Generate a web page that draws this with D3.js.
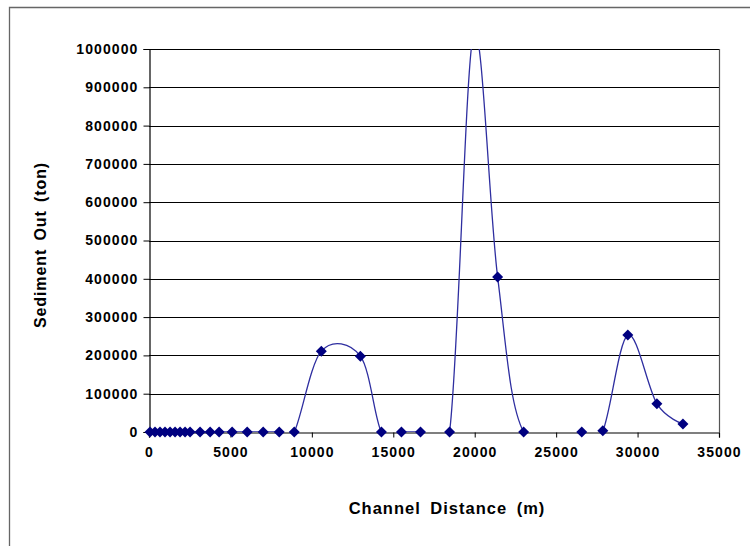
<!DOCTYPE html>
<html><head><meta charset="utf-8">
<script src="https://cdn.jsdelivr.net/npm/d3@7"></script>
<style>
body{margin:0;background:#fff;}
svg{display:block;font-family:"Liberation Sans",Arial,sans-serif;}
</style></head>
<body><svg id="c" width="750" height="546"></svg>
<script>
const distance = [62,369,677,984,1292,1600,1907,2214,2522,3137,3752,4306,5105,6028,7012,7997,8919,10580,12979,14271,15501,16670,18454,19930,21406,23005,26573,27865,29402,31186,32786];
const sediment = [0,0,0,0,0,0,0,0,0,0,0,0,0,0,0,0,0,211000,198000,0,0,0,0,1040000,405000,0,0,3000,253000,74000,21000];
const xTicks = [0,5000,10000,15000,20000,25000,30000,35000];
const yTicks = [0,100000,200000,300000,400000,500000,600000,700000,800000,900000,1000000];

const svg = d3.select("#c");
const L=149,R=719,T=49,B=432;
const x = d3.scaleLinear().domain([0,35000]).range([L,R]);
const y = d3.scaleLinear().domain([0,1000000]).range([B,T]);

// outer frame
svg.append("path").attr("d","M9.5,546 V7.5 H750").attr("fill","none").attr("stroke","#666").attr("stroke-width",1.3);

// gridlines
svg.append("g").selectAll("line").data(yTicks.slice(1)).join("line")
  .attr("x1",L).attr("x2",R).attr("y1",d=>Math.round(y(d))+0.5).attr("y2",d=>Math.round(y(d))+0.5)
  .attr("stroke","#000").attr("stroke-width",1);
// right border
svg.append("line").attr("x1",R+0.5).attr("x2",R+0.5).attr("y1",T).attr("y2",B).attr("stroke","#555").attr("stroke-width",1.2);

// axes
const ya = svg.append("g").attr("transform",`translate(${L+0.5},0)`)
  .call(d3.axisLeft(y).tickValues(yTicks).tickFormat(d3.format("d")).tickSize(6).tickPadding(6));
const xa = svg.append("g").attr("transform",`translate(0,${B+0.5})`)
  .call(d3.axisBottom(x).tickValues(xTicks).tickFormat(d3.format("d")).tickSize(5).tickPadding(10));
[ya,xa].forEach(g=>{
  g.select(".domain").attr("stroke","#000").attr("stroke-width",1.2);
  g.selectAll(".tick line").attr("stroke","#000");
  g.selectAll("text").attr("font-size",14).attr("font-weight","bold").attr("fill","#000")
   .attr("letter-spacing","1.1px")
   .attr("font-family","'Liberation Sans',Arial,sans-serif");
});
ya.selectAll("text").attr("dx","1px");

// clip
svg.append("clipPath").attr("id","clip").append("rect").attr("x",L).attr("y",T).attr("width",R-L).attr("height",B-T);

const pts = distance.map((d,i)=>[d,sediment[i]]);
const line = d3.line().x(d=>x(d[0])).y(d=>y(d[1])).curve(d3.curveCardinal.tension(0));
svg.append("path").attr("clip-path","url(#clip)").attr("d",line(pts))
  .attr("fill","none").attr("stroke","#2e2ea0").attr("stroke-width",1.3);

svg.append("g").selectAll("path").data(pts.filter(p=>p[1]<=1000000)).join("path")
  .attr("transform",p=>`translate(${x(p[0])},${y(p[1])})`)
  .attr("d","M0,-5.5 L5.5,0 L0,5.5 L-5.5,0 Z").attr("fill","#000080");

// titles
svg.append("text").attr("x",447).attr("y",514).attr("text-anchor","middle")
  .attr("font-size",16.5).attr("font-weight","bold").attr("letter-spacing","1px").attr("word-spacing","4px")
  .text("Channel Distance (m)");
svg.append("text").attr("transform","translate(46,245) rotate(-90)").attr("text-anchor","middle")
  .attr("font-size",16).attr("font-weight","bold").attr("letter-spacing","0.9px").attr("word-spacing","3px")
  .text("Sediment Out (ton)");
</script></body></html>
